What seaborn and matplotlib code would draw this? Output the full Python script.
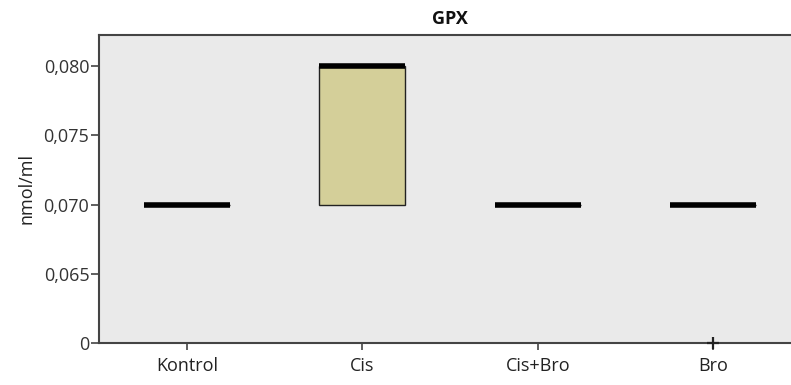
import numpy as np
import pandas as pd
import matplotlib
matplotlib.use("Agg")
import matplotlib.pyplot as plt
import seaborn as sns

# GPX measurements per group (nmol/ml)
groups = ["Kontrol", "Cis", "Cis+Bro", "Bro"]
kontrol = [0.070, 0.070, 0.070, 0.070, 0.070, 0.070, 0.070]
cis = [0.070, 0.070, 0.070, 0.080, 0.080, 0.080, 0.080]
cis_bro = [0.070, 0.070, 0.070, 0.070, 0.070, 0.070, 0.070]
bro = [0.070, 0.070, 0.070, 0.070, 0.070, 0.070, 0.0]

tick_values = [0.0, 0.065, 0.070, 0.075, 0.080]
tick_labels = ["0", "0,065", "0,070", "0,075", "0,080"]

df = pd.DataFrame({
    "group": np.repeat(groups, [len(kontrol), len(cis), len(cis_bro), len(bro)]),
    "value": kontrol + cis + cis_bro + bro,
})

sns.set_theme(style="white")
plt.rcParams["font.family"] = ["Open Sans", "DejaVu Sans"]

fig = plt.figure(figsize=(7.91, 3.85), dpi=100)
ax = fig.add_axes([99 / 791, 1 - 343 / 385, 702 / 791, 308 / 385])
ax.set_facecolor("#eaeaea")

# broken axis: values near zero are drawn just below the 0,065 tick
def fwd(y):
    y = np.asarray(y, dtype=float)
    return np.where(y < 0.03, y + 0.060, y)

def inv(y):
    y = np.asarray(y, dtype=float)
    return np.where(y < 0.0625, y - 0.060, y)

ax.set_yscale("function", functions=(fwd, inv))

sns.boxplot(
    data=df, x="group", y="value", order=groups, ax=ax,
    width=0.49, color="#d4cf99", saturation=1, whis=1.5,
    linewidth=1.0, linecolor="#222222", showcaps=False,
    medianprops=dict(color="black", linewidth=4.0, solid_capstyle="butt"),
    whiskerprops=dict(color="#222222", linewidth=1.0),
    flierprops=dict(marker="+", markersize=9, markeredgewidth=1.6,
                    markeredgecolor="#222222"),
)

# keep the outlier marker on top of the bottom spine
for line in ax.lines:
    if line.get_marker() == "+":
        line.set_clip_on(False)
        line.set_zorder(6)

ax.set_xlim(-0.5, 3.5)
ax.set_ylim(0.0, 0.08224)
ax.set_yticks(tick_values)
ax.set_yticklabels(tick_labels)
ax.yaxis.set_minor_locator(matplotlib.ticker.NullLocator())

ax.set_xlabel("")
ax.set_ylabel("nmol/ml", fontsize=13, color="#222222", labelpad=6)
ax.set_title("GPX", fontsize=13, fontweight="bold", color="#111111", pad=8)

ax.tick_params(axis="y", direction="out", length=6, width=1.2, color="#444444",
               labelsize=13, labelcolor="#333333", pad=1, left=True)
ax.tick_params(axis="x", direction="out", length=5, width=1.2, color="#444444",
               labelsize=13, labelcolor="#222222", pad=5, bottom=True)

for side in ["left", "bottom", "top"]:
    ax.spines[side].set_color("#444444")
    ax.spines[side].set_linewidth(1.5)
ax.spines["right"].set_visible(False)

fig.savefig("out.png", dpi=100)
